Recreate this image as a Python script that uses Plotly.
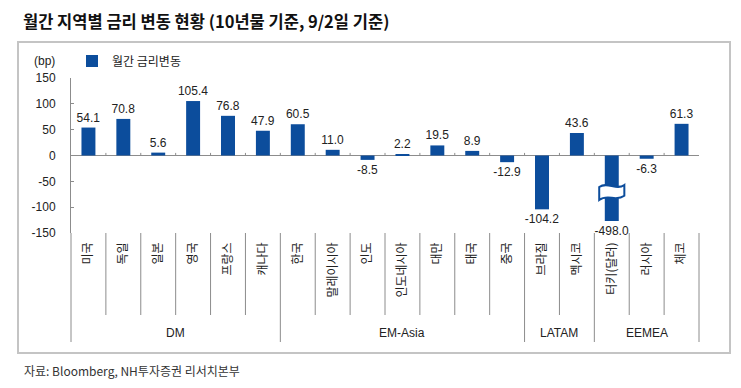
import plotly.graph_objects as go

# ---------------- data ----------------
countries = ["미국", "독일", "일본", "영국", "프랑스", "캐나다",
             "한국", "말레이시아", "인도", "인도네시아", "대만", "태국", "중국",
             "브라질", "멕시코",
             "터키(달러)", "러시아", "체코"]
changes = [54.1, 70.8, 5.6, 105.4, 76.8, 47.9,
           60.5, 11.0, -8.5, 2.2, 19.5, 8.9, -12.9,
           -104.2, 43.6,
           -498.0, -6.3, 61.3]
groups = ["DM"] * 6 + ["EM-Asia"] * 7 + ["LATAM"] * 2 + ["EEMEA"] * 3
series_name = "월간 금리변동"
y_tick_vals = [150, 100, 50, 0, -50, -100, -150]
y_tick_text = ["150", "100", "50", "0", "-50", "-100", "-150"]
title_text = "월간 지역별 금리 변동 현황 (10년물 기준, 9/2일 기준)"
source_text = "자료: Bloomberg, NH투자증권 리서치본부"
unit_text = "(bp)"

# bars below this value are drawn with an axis-break marker
AXIS_BREAK = -127

# ---------------- layout geometry ----------------
OFF = 8                      # default page margin of the html body
W, H = 741 - OFF, 388 - OFF  # figure size so the page fits the window
PL, PR, PT, PB = 71, 699, 78, 233  # plot area in window pixels


def px_x(px):
    return (px - PL) / (PR - PL)


def px_y(py):
    return (PB - py) / (PB - PT)


BAR_COLOR = "#0c4d9c"
LINE_GRAY = "#8c8c8c"
TXT = "#222222"
KR = "Noto Sans CJK KR"
LAT = "Liberation Sans, Arial"

shown = [max(v, AXIS_BREAK) for v in changes]
labels = [f"{v:.1f}" for v in changes]

fig = go.Figure()
fig.add_trace(go.Bar(
    x=countries, y=shown, name=series_name,
    marker=dict(color=BAR_COLOR, line=dict(width=0)),
    width=0.4,
    text=labels, textposition="outside", constraintext="none",
    textfont=dict(family=LAT, size=12, color=TXT),
    cliponaxis=False, showlegend=True,
))

n = len(countries)
shapes = []

# group boundaries
gb = [-0.5] + [i - 0.5 for i in range(1, n) if groups[i] != groups[i - 1]] + [n - 0.5]


def xpos(b):
    if b == -0.5:
        return "x domain", 0
    if b == n - 0.5:
        return "x domain", 1
    return "x", b


for i in range(n + 1):
    b = i - 0.5
    xr, xv = xpos(b)
    bottom = px_y(342) if b in gb else px_y(315)
    shapes.append(dict(type="line", xref=xr, yref="paper", x0=xv, x1=xv,
                       y0=0, y1=bottom, line=dict(color=LINE_GRAY, width=1)))
    if 0 < i < n:
        shapes.append(dict(type="line", xref="x", yref="y", x0=b, x1=b,
                           y0=0, y1=5, line=dict(color=LINE_GRAY, width=1)))

# axis-break marker on the clipped bar(s)
for i, v in enumerate(changes):
    if v < AXIS_BREAK:
        L, R = i - 0.36, i + 0.36
        path = (f"M {L},-61 C {L+0.24},-49 {R-0.24},-69 {R},-57 "
                f"L {R},-78 C {R-0.24},-90 {L+0.24},-74 {L},-86 Z")
        shapes.append(dict(type="path", xref="x", yref="y", path=path,
                           fillcolor="white", line=dict(color=BAR_COLOR, width=2)))

# outer frame
shapes.append(dict(type="rect", xref="paper", yref="paper",
                   x0=px_x(18), x1=px_x(730), y0=px_y(353), y1=px_y(42),
                   line=dict(color="#c4c4c4", width=2), fillcolor="rgba(0,0,0,0)",
                   layer="below"))

annotations = []
# group labels
for g in dict.fromkeys(groups):
    idx = [i for i, gg in enumerate(groups) if gg == g]
    annotations.append(dict(xref="x", yref="paper", x=sum(idx) / len(idx), y=px_y(333),
                            text=g, showarrow=False, xanchor="center", yanchor="middle",
                            font=dict(family=LAT, size=12, color=TXT)))
annotations.append(dict(xref="paper", yref="paper", x=px_x(44), y=px_y(61), text=unit_text,
                        showarrow=False, xanchor="center", yanchor="middle",
                        font=dict(family=LAT, size=12, color=TXT)))
annotations.append(dict(xref="paper", yref="paper", x=px_x(22), y=px_y(370), text=source_text,
                        showarrow=False, xanchor="left", yanchor="middle",
                        font=dict(family=KR, size=12, color="#333333")))

fig.update_layout(
    width=W, height=H, autosize=False,
    margin=dict(l=PL - OFF, r=(W + OFF) - PR, t=PT - OFF, b=(H + OFF) - PB,
                pad=0, autoexpand=False),
    paper_bgcolor="white", plot_bgcolor="white",
    title=dict(text=f"<b>{title_text}</b>", x=(23 - OFF) / W, xanchor="left",
               y=1 - (22 - OFF) / H, yanchor="middle", yref="container",
               font=dict(family=KR, size=16.5, color="#111111")),
    showlegend=True,
    legend=dict(orientation="h", x=px_x(72), y=px_y(61), xanchor="left", yanchor="middle",
                font=dict(family=KR, size=12, color=TXT), bgcolor="rgba(0,0,0,0)",
                itemwidth=30),
    xaxis=dict(type="category", categoryarray=countries, categoryorder="array",
               range=[-0.5, n - 0.5], showline=False, showgrid=False, zeroline=False,
               ticks="", tickangle=-90, ticklabelstandoff=6, automargin=False,
               tickfont=dict(family=KR, size=12, color=TXT)),
    yaxis=dict(range=[-150, 150], tickvals=y_tick_vals, ticktext=y_tick_text,
               showgrid=False, automargin=False,
               showline=True, linecolor=LINE_GRAY, linewidth=1,
               ticks="inside", ticklen=3, tickcolor=LINE_GRAY,
               zeroline=True, zerolinecolor=LINE_GRAY, zerolinewidth=1,
               ticklabelstandoff=12,
               tickfont=dict(family=LAT, size=12, color=TXT)),
    shapes=shapes, annotations=annotations,
    bargap=0.6,
)

fig.write_html("out.html")
